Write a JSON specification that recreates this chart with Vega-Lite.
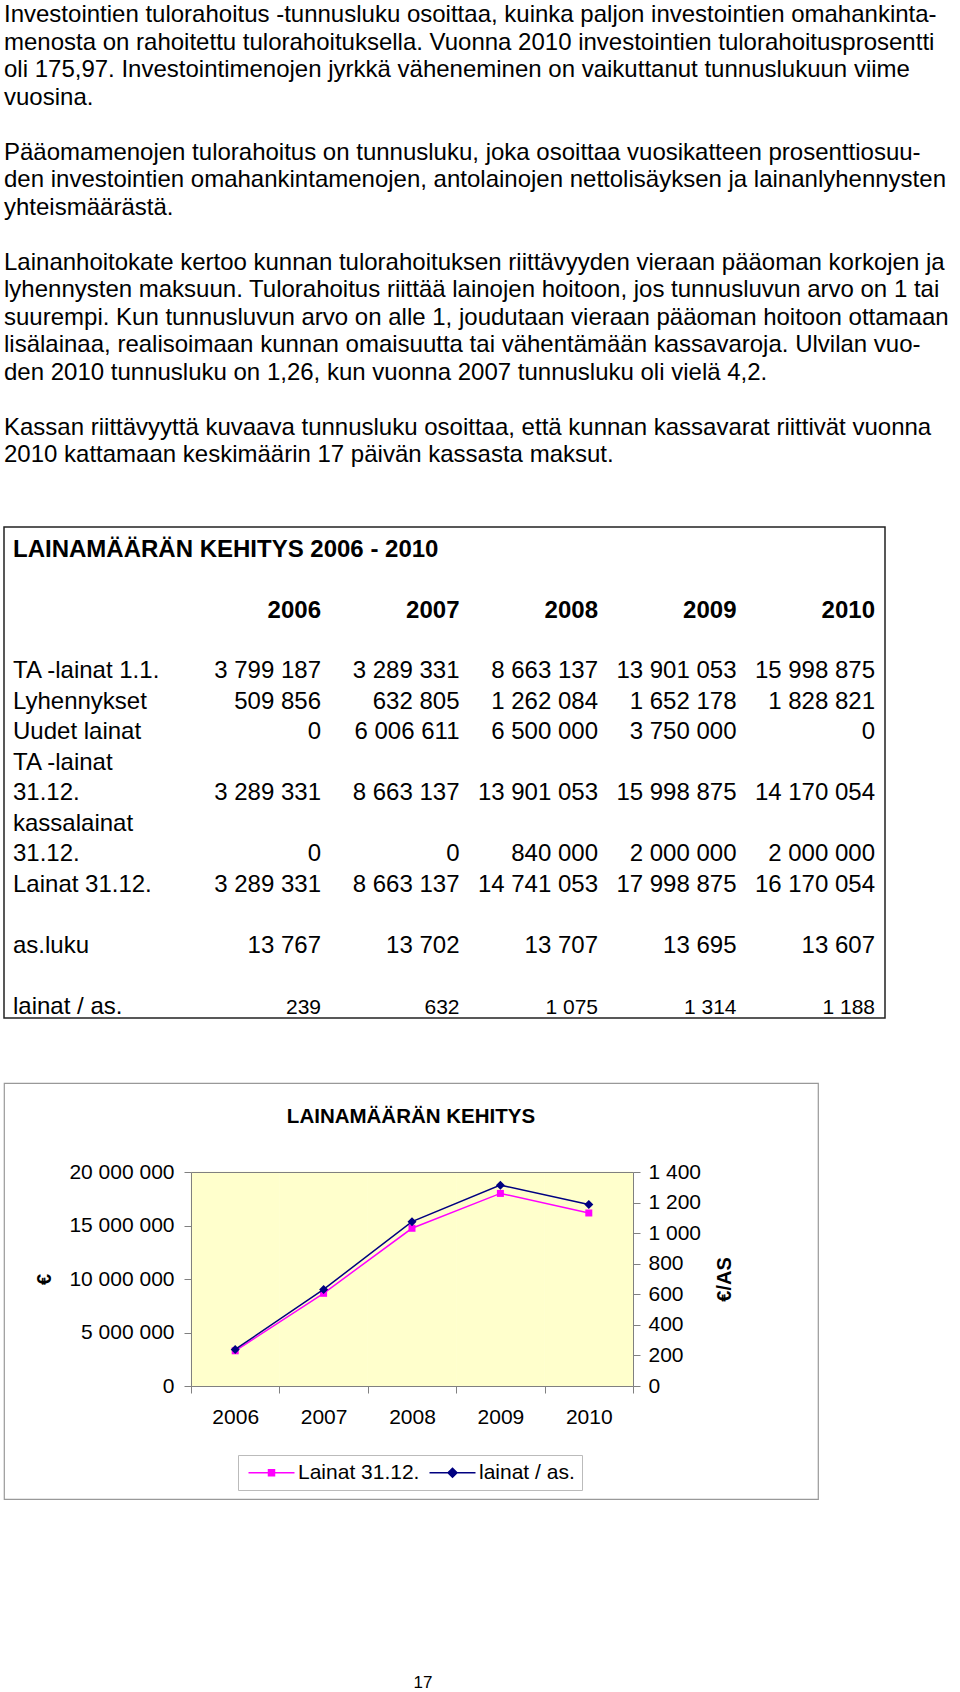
{
  "$schema": "https://vega.github.io/schema/vega-lite/v6.json",
  "background": "white",
  "padding": {"left": 3, "top": 0, "right": 0, "bottom": 0},
  "bounds": "flush",
  "spacing": 65,
  "resolve": {
    "scale": {"fill": "independent", "stroke": "independent", "shape": "independent"},
    "legend": {"fill": "independent", "stroke": "independent", "shape": "independent"}
  },
  "config": {
    "font": "Liberation Sans",
    "view": {"stroke": null},
    "locale": {"number": {"decimal": ",", "thousands": " ", "grouping": [3], "currency": ["", " €"]}},
    "text": {"font": "Liberation Sans", "color": "#000000"},
    "axis": {"labelFont": "Liberation Sans", "titleFont": "Liberation Sans", "grid": false},
    "legend": {"labelFont": "Liberation Sans"},
    "title": {"font": "Liberation Sans"}
  },
  "datasets": {
    "lines": [
      {"line": 0, "text": "Investointien tulorahoitus -tunnusluku osoittaa, kuinka paljon investointien omahankinta-"},
      {"line": 1, "text": "menosta on rahoitettu tulorahoituksella. Vuonna 2010 investointien tulorahoitusprosentti"},
      {"line": 2, "text": "oli 175,97. Investointimenojen jyrkkä väheneminen on vaikuttanut tunnuslukuun viime"},
      {"line": 3, "text": "vuosina."},
      {"line": 5, "text": "Pääomamenojen tulorahoitus on tunnusluku, joka osoittaa vuosikatteen prosenttiosuu-"},
      {"line": 6, "text": "den investointien omahankintamenojen, antolainojen nettolisäyksen ja lainanlyhennysten"},
      {"line": 7, "text": "yhteismäärästä."},
      {"line": 9, "text": "Lainanhoitokate kertoo kunnan tulorahoituksen riittävyyden vieraan pääoman korkojen ja"},
      {"line": 10, "text": "lyhennysten maksuun. Tulorahoitus riittää lainojen hoitoon, jos tunnusluvun arvo on 1 tai"},
      {"line": 11, "text": "suurempi. Kun tunnusluvun arvo on alle 1, joudutaan vieraan pääoman hoitoon ottamaan"},
      {"line": 12, "text": "lisälainaa, realisoimaan kunnan omaisuutta tai vähentämään kassavaroja. Ulvilan vuo-"},
      {"line": 13, "text": "den 2010 tunnusluku on 1,26, kun vuonna 2007 tunnusluku oli vielä 4,2."},
      {"line": 15, "text": "Kassan riittävyyttä kuvaava tunnusluku osoittaa, että kunnan kassavarat riittivät vuonna"},
      {"line": 16, "text": "2010 kattamaan keskimäärin 17 päivän kassasta maksut."}
    ],
    "tlabels": [
      {"slot": 0, "kind": "title", "label": "LAINAMÄÄRÄN KEHITYS 2006 - 2010"},
      {"slot": 4, "kind": "label", "label": "TA -lainat 1.1."},
      {"slot": 5, "kind": "label", "label": "Lyhennykset"},
      {"slot": 6, "kind": "label", "label": "Uudet lainat"},
      {"slot": 7, "kind": "label", "label": "TA -lainat"},
      {"slot": 8, "kind": "label", "label": "31.12."},
      {"slot": 9, "kind": "label", "label": "kassalainat"},
      {"slot": 10, "kind": "label", "label": "31.12."},
      {"slot": 11, "kind": "label", "label": "Lainat 31.12."},
      {"slot": 13, "kind": "label", "label": "as.luku"},
      {"slot": 15, "kind": "label", "label": "lainat / as."}
    ],
    "cells": [
      {"slot": 4, "year": 2006, "value": 3799187}, {"slot": 4, "year": 2007, "value": 3289331}, {"slot": 4, "year": 2008, "value": 8663137}, {"slot": 4, "year": 2009, "value": 13901053}, {"slot": 4, "year": 2010, "value": 15998875},
      {"slot": 5, "year": 2006, "value": 509856}, {"slot": 5, "year": 2007, "value": 632805}, {"slot": 5, "year": 2008, "value": 1262084}, {"slot": 5, "year": 2009, "value": 1652178}, {"slot": 5, "year": 2010, "value": 1828821},
      {"slot": 6, "year": 2006, "value": 0}, {"slot": 6, "year": 2007, "value": 6006611}, {"slot": 6, "year": 2008, "value": 6500000}, {"slot": 6, "year": 2009, "value": 3750000}, {"slot": 6, "year": 2010, "value": 0},
      {"slot": 8, "year": 2006, "value": 3289331}, {"slot": 8, "year": 2007, "value": 8663137}, {"slot": 8, "year": 2008, "value": 13901053}, {"slot": 8, "year": 2009, "value": 15998875}, {"slot": 8, "year": 2010, "value": 14170054},
      {"slot": 10, "year": 2006, "value": 0}, {"slot": 10, "year": 2007, "value": 0}, {"slot": 10, "year": 2008, "value": 840000}, {"slot": 10, "year": 2009, "value": 2000000}, {"slot": 10, "year": 2010, "value": 2000000},
      {"slot": 11, "year": 2006, "value": 3289331}, {"slot": 11, "year": 2007, "value": 8663137}, {"slot": 11, "year": 2008, "value": 14741053}, {"slot": 11, "year": 2009, "value": 17998875}, {"slot": 11, "year": 2010, "value": 16170054},
      {"slot": 13, "year": 2006, "value": 13767}, {"slot": 13, "year": 2007, "value": 13702}, {"slot": 13, "year": 2008, "value": 13707}, {"slot": 13, "year": 2009, "value": 13695}, {"slot": 13, "year": 2010, "value": 13607},
      {"slot": 15, "year": 2006, "value": 239}, {"slot": 15, "year": 2007, "value": 632}, {"slot": 15, "year": 2008, "value": 1075}, {"slot": 15, "year": 2009, "value": 1314}, {"slot": 15, "year": 2010, "value": 1188}
    ],
    "loans": [
      {"year": "2006", "lainat": 3289331, "per_as": 239},
      {"year": "2007", "lainat": 8663137, "per_as": 632},
      {"year": "2008", "lainat": 14741053, "per_as": 1075},
      {"year": "2009", "lainat": 17998875, "per_as": 1314},
      {"year": "2010", "lainat": 16170054, "per_as": 1188}
    ]
  },
  "vconcat": [
    {
      "width": 955,
      "height": 462,
      "data": {"name": "lines"},
      "mark": {"type": "text", "align": "left", "baseline": "middle", "fontSize": 24, "color": "#000000"},
      "encoding": {
        "x": {"datum": 0, "type": "quantitative", "scale": {"domain": [0, 1], "range": [0, 955]}, "axis": null},
        "y": {"field": "line", "type": "quantitative", "scale": {"domain": [0, 16], "range": [15, 455]}, "axis": null},
        "text": {"field": "text", "type": "nominal"}
      }
    },
    {
      "width": 881,
      "height": 491,
      "view": {"stroke": "#222222", "strokeWidth": 1.5},
      "resolve": {"scale": {"x": "independent"}},
      "layer": [
        {
          "data": {"name": "tlabels"},
          "transform": [{"filter": "datum.kind == 'title'"}],
          "mark": {"type": "text", "align": "left", "baseline": "alphabetic", "fontSize": 24, "fontWeight": "bold", "color": "#000000"},
          "encoding": {
            "x": {"datum": 0, "type": "quantitative", "scale": {"domain": [0, 1], "range": [9, 881]}, "axis": null},
            "y": {"field": "slot", "type": "quantitative", "scale": {"domain": [0, 15], "range": [29.6, 486.6]}, "axis": null},
            "text": {"field": "label", "type": "nominal"}
          }
        },
        {
          "data": {"name": "tlabels"},
          "transform": [{"filter": "datum.kind == 'label'"}],
          "mark": {"type": "text", "align": "left", "baseline": "alphabetic", "fontSize": 24, "color": "#000000"},
          "encoding": {
            "x": {"datum": 0, "type": "quantitative", "scale": {"domain": [0, 1], "range": [9, 881]}, "axis": null},
            "y": {"field": "slot", "type": "quantitative", "scale": {"domain": [0, 15], "range": [29.6, 486.6]}, "axis": null},
            "text": {"field": "label", "type": "nominal"}
          }
        },
        {
          "data": {"name": "cells"},
          "transform": [{"filter": "datum.slot == 4"}],
          "mark": {"type": "text", "align": "right", "baseline": "alphabetic", "fontSize": 24, "fontWeight": "bold", "color": "#000000"},
          "encoding": {
            "x": {"field": "year", "type": "quantitative", "scale": {"domain": [2006, 2010], "range": [317, 871]}, "axis": null},
            "y": {"datum": 2, "type": "quantitative", "scale": {"domain": [0, 15], "range": [29.6, 486.6]}, "axis": null},
            "text": {"field": "year", "type": "nominal"}
          }
        },
        {
          "data": {"name": "cells"},
          "transform": [{"filter": "datum.slot != 15"}],
          "mark": {"type": "text", "align": "right", "baseline": "alphabetic", "fontSize": 24, "color": "#000000"},
          "encoding": {
            "x": {"field": "year", "type": "quantitative", "scale": {"domain": [2006, 2010], "range": [317, 871]}, "axis": null},
            "y": {"field": "slot", "type": "quantitative", "scale": {"domain": [0, 15], "range": [29.6, 486.6]}, "axis": null},
            "text": {"field": "value", "type": "quantitative", "format": ",d"}
          }
        },
        {
          "data": {"name": "cells"},
          "transform": [{"filter": "datum.slot == 15"}],
          "mark": {"type": "text", "align": "right", "baseline": "alphabetic", "fontSize": 21, "color": "#000000"},
          "encoding": {
            "x": {"field": "year", "type": "quantitative", "scale": {"domain": [2006, 2010], "range": [317, 871]}, "axis": null},
            "y": {"field": "slot", "type": "quantitative", "scale": {"domain": [0, 15], "range": [29.6, 486.6]}, "axis": null},
            "text": {"field": "value", "type": "quantitative", "format": ",d"}
          }
        }
      ]
    },
    {
      "width": 814,
      "height": 416,
      "view": {"stroke": "#999999", "strokeWidth": 1.2},
      "title": {"text": "LAINAMÄÄRÄN KEHITYS", "fontSize": 20.5, "fontWeight": "bold", "color": "#000000", "anchor": "middle", "frame": "group", "baseline": "middle", "offset": -54},
      "data": {"name": "loans"},
      "resolve": {"scale": {"y": "independent"}},
      "layer": [
        {
          "mark": {"type": "rect", "fill": "#FFFFCC", "stroke": "#FFFFCC", "strokeWidth": 0.6},
          "encoding": {
            "x": {"field": "year", "type": "ordinal",
              "scale": {"domain": ["2006", "2007", "2008", "2009", "2010"], "range": [187, 629], "paddingInner": 0, "paddingOuter": 0},
              "axis": {"orient": "bottom", "offset": -113, "tickBand": "extent", "tickSize": 7, "labelPadding": 13, "labelFontSize": 21, "labelAngle": 0, "labelColor": "#000000", "labelBaseline": "top", "title": null, "domainColor": "#808080", "tickColor": "#808080", "zindex": 1, "grid": false}},
            "y": {"datum": 0, "type": "quantitative", "scale": {"domain": [0, 20000000], "range": [303, 89], "nice": false}, "axis": null},
            "y2": {"datum": 20000000}
          }
        },
        {
          "mark": {"type": "line", "color": "#FF00FF", "strokeWidth": 1.5, "point": {"shape": "square", "filled": true, "fill": "#FF00FF", "size": 49, "opacity": 1}},
          "encoding": {
            "x": {"field": "year", "type": "ordinal",
              "scale": {"domain": ["2006", "2007", "2008", "2009", "2010"], "range": [187, 629], "paddingInner": 0, "paddingOuter": 0},
              "axis": null},
            "y": {"field": "lainat", "type": "quantitative", "scale": {"domain": [0, 20000000], "range": [303, 89], "nice": false},
              "axis": {"orient": "left", "offset": -187, "values": [0, 5000000, 10000000, 15000000, 20000000], "format": ",d", "tickSize": 7, "labelPadding": 10, "labelFontSize": 21, "labelColor": "#000000", "labelBaseline": "middle", "domainColor": "#808080", "tickColor": "#808080", "grid": false, "zindex": 1,
                "title": "€", "titleFontSize": 20, "titleFontWeight": "bold", "titleColor": "#000000", "titleAngle": 270, "titleX": -147, "titleY": 196, "titleAlign": "center", "titleBaseline": "middle"}}
          }
        },
        {
          "mark": {"type": "line", "color": "#000080", "strokeWidth": 1.5, "point": {"shape": "diamond", "filled": true, "fill": "#000080", "size": 81, "opacity": 1}},
          "encoding": {
            "x": {"field": "year", "type": "ordinal",
              "scale": {"domain": ["2006", "2007", "2008", "2009", "2010"], "range": [187, 629], "paddingInner": 0, "paddingOuter": 0},
              "axis": {"orient": "top", "offset": -89, "labels": false, "ticks": false, "title": null, "domainColor": "#808080", "zindex": 1, "grid": false}},
            "y": {"field": "per_as", "type": "quantitative", "scale": {"domain": [0, 1400], "range": [303, 89], "nice": false},
              "axis": {"orient": "right", "offset": -185, "values": [0, 200, 400, 600, 800, 1000, 1200, 1400], "format": ",d", "tickSize": 7, "labelPadding": 8, "labelFontSize": 21, "labelColor": "#000000", "labelBaseline": "middle", "domainColor": "#808080", "tickColor": "#808080", "grid": false, "zindex": 1,
                "title": "€/AS", "titleFontSize": 20, "titleFontWeight": "bold", "titleColor": "#000000", "titleAngle": 270, "titleX": 91, "titleY": 196, "titleAlign": "center", "titleBaseline": "middle"}}
          }
        },
        {
          "data": {"values": []},
          "mark": {"type": "point", "filled": true, "opacity": 1, "size": 100},
          "encoding": {
            "fill": {"field": "series", "type": "nominal",
              "scale": {"domain": ["Lainat 31.12.", "lainat / as."], "range": ["#FF00FF", "#000080"]},
              "legend": {"orient": "none", "legendX": 234, "legendY": 372, "direction": "horizontal", "title": null, "labelFontSize": 21, "labelColor": "#000000", "labelLimit": 0, "labelBaseline": "middle", "symbolSize": 100, "symbolStrokeWidth": 1.5, "symbolOffset": 16, "labelOffset": 16, "columnPadding": 6, "padding": 7, "strokeColor": "#BBBBBB", "fillColor": "#FFFFFF", "cornerRadius": 0}},
            "stroke": {"field": "series", "type": "nominal",
              "scale": {"domain": ["Lainat 31.12.", "lainat / as."], "range": ["#FF00FF", "#000080"]}},
            "shape": {"field": "series", "type": "nominal",
              "scale": {"domain": ["Lainat 31.12.", "lainat / as."], "range": ["M-4.6,0H4.6M-0.6,-0.6H0.6V0.6H-0.6Z", "M-4.6,0H4.6M0,-0.9L0.9,0L0,0.9L-0.9,0Z"]}}
          }
        }
      ]
    },
    {
      "width": 838,
      "height": 128,
      "data": {"values": [{"page": "17"}]},
      "mark": {"type": "text", "fontSize": 17, "baseline": "middle", "dy": 55, "color": "#000000"},
      "encoding": {"text": {"field": "page", "type": "nominal"}}
    }
  ]
}
